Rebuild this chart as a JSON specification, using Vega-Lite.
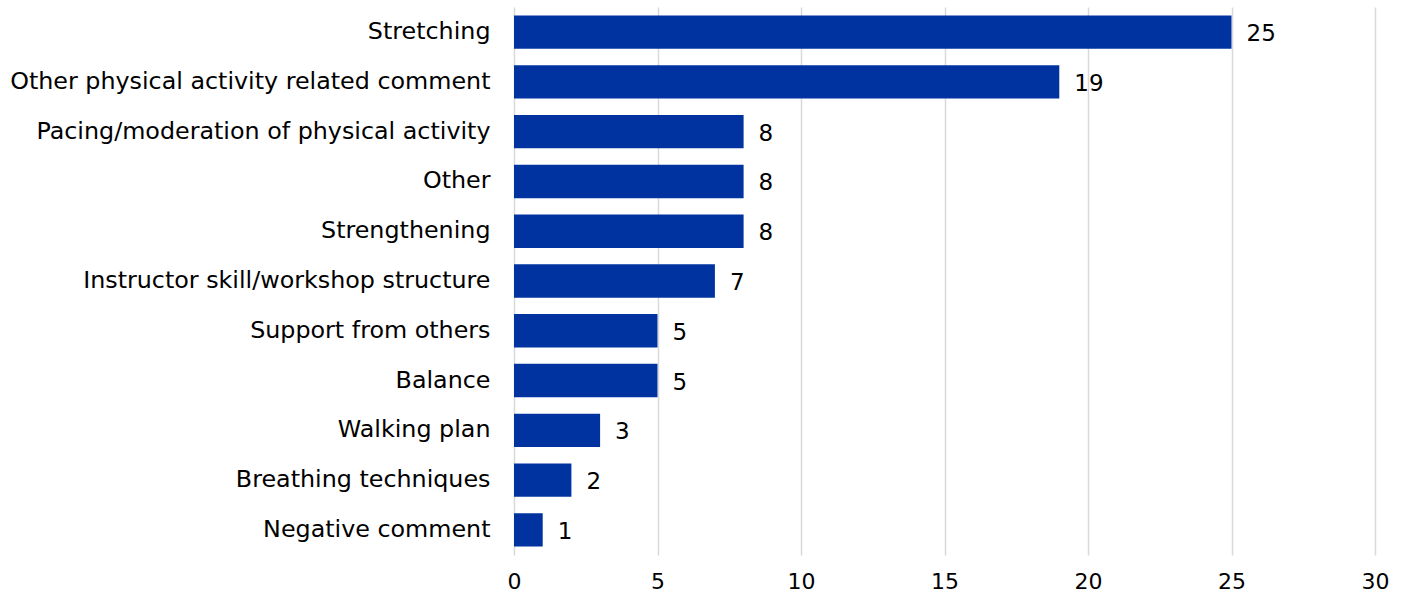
{
  "$schema": "https://vega.github.io/schema/vega-lite/v6.json",
  "autosize": "none",
  "width": 861,
  "height": 548,
  "padding": {"left": 514, "top": 7, "right": 30, "bottom": 42},
  "background": "white",
  "config": {"view": {"stroke": null}, "font": "DejaVu Sans"},
  "data": {"values": [
    {"category": "Stretching", "count": 25},
    {"category": "Other physical activity related comment", "count": 19},
    {"category": "Pacing/moderation of physical activity", "count": 8},
    {"category": "Other", "count": 8},
    {"category": "Strengthening", "count": 8},
    {"category": "Instructor skill/workshop structure", "count": 7},
    {"category": "Support from others", "count": 5},
    {"category": "Balance", "count": 5},
    {"category": "Walking plan", "count": 3},
    {"category": "Breathing techniques", "count": 2},
    {"category": "Negative comment", "count": 1}
  ]},
  "encoding": {
    "y": {"field": "category", "type": "nominal", "sort": null,
      "scale": {"paddingInner": 0.33, "paddingOuter": 0.17},
      "axis": {"title": null, "ticks": false, "domain": false, "labelFontSize": 23.8, "labelColor": "#000000", "labelPadding": 24, "labelLimit": 600}},
    "x": {"field": "count", "type": "quantitative",
      "scale": {"domain": [0, 30], "nice": false},
      "axis": {"title": null, "values": [0, 5, 10, 15, 20, 25, 30], "ticks": false, "domain": false, "labelFontSize": 22, "labelFlush": false, "labelColor": "#000000", "labelPadding": 16, "gridColor": "#d9d9d9", "gridWidth": 1.5}}
  },
  "layer": [
    {"mark": {"type": "bar", "color": "#0033A0"}},
    {"mark": {"type": "text", "align": "left", "dx": 15, "dy": 2, "fontSize": 23, "color": "#000000"},
     "encoding": {"text": {"field": "count", "type": "quantitative"}}}
  ]
}
